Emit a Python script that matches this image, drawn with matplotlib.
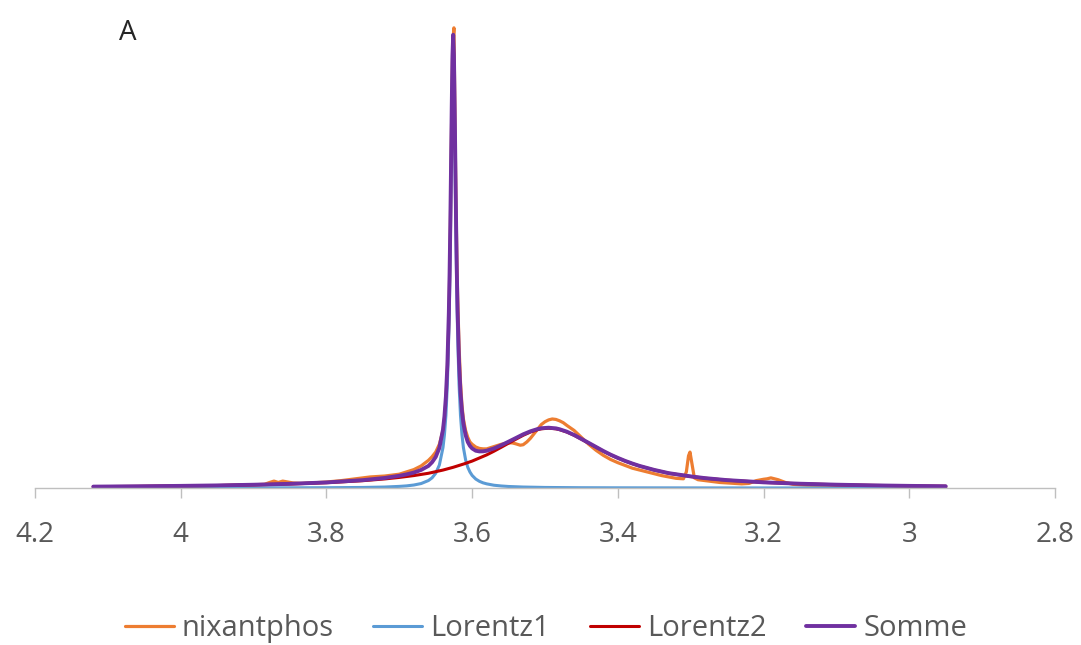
import matplotlib
matplotlib.use('Agg')
import matplotlib.pyplot as plt

plt.rcParams['font.family'] = ['Open Sans', 'DejaVu Sans']

# chemical shift (ppm) and intensity
x_nix = [4.12, 4.06, 4.0, 3.95, 3.9, 3.885, 3.878, 3.872, 3.866, 3.86, 3.853, 3.846, 3.835,
         3.82, 3.8, 3.78, 3.76, 3.74, 3.72, 3.7, 3.69, 3.68, 3.67, 3.66, 3.655, 3.65, 3.645,
         3.64, 3.638, 3.636, 3.634, 3.632, 3.631, 3.63, 3.629, 3.628, 3.627, 3.626, 3.625,
         3.624, 3.623, 3.622, 3.621, 3.62, 3.618, 3.616, 3.614, 3.612, 3.609, 3.606, 3.603,
         3.6, 3.595, 3.59, 3.585, 3.58, 3.57, 3.56, 3.55, 3.545, 3.54, 3.534, 3.53, 3.525,
         3.52, 3.515, 3.51, 3.505, 3.5, 3.495, 3.49, 3.485, 3.48, 3.475, 3.47, 3.46, 3.45,
         3.44, 3.43, 3.42, 3.41, 3.4, 3.39, 3.38, 3.36, 3.35, 3.34, 3.32, 3.31, 3.306, 3.303,
         3.301, 3.298, 3.295, 3.29, 3.28, 3.26, 3.25, 3.23, 3.22, 3.21, 3.2, 3.195, 3.19,
         3.185, 3.18, 3.17, 3.16, 3.14, 3.12, 3.05, 3.0, 2.95]
y_nix = [0.002, 0.003, 0.004, 0.005, 0.007, 0.008, 0.012, 0.015, 0.012, 0.015, 0.013, 0.011, 0.010,
         0.011, 0.013, 0.016, 0.020, 0.024, 0.026, 0.030, 0.035, 0.040, 0.048, 0.060, 0.068, 0.078, 0.095,
         0.125, 0.15, 0.19, 0.26, 0.36, 0.45, 0.55, 0.68, 0.82, 0.93, 0.98, 1.0,
         0.86, 0.72, 0.60, 0.50, 0.42, 0.31, 0.23, 0.18, 0.15, 0.125, 0.11, 0.10,
         0.095, 0.089, 0.086, 0.085, 0.085, 0.09, 0.095, 0.098, 0.098, 0.096, 0.093, 0.094, 0.100,
         0.108, 0.118, 0.128, 0.138, 0.144, 0.148, 0.150, 0.149, 0.146, 0.142, 0.136, 0.125, 0.110,
         0.095, 0.082, 0.071, 0.062, 0.055, 0.049, 0.043, 0.035, 0.031, 0.027, 0.021, 0.020, 0.035, 0.070,
         0.078, 0.050, 0.022, 0.018, 0.016, 0.012, 0.011, 0.009, 0.010, 0.016, 0.019, 0.020, 0.022,
         0.020, 0.018, 0.012, 0.008, 0.006, 0.005, 0.003, 0.002, 0.001]

x_l1 = [4.12, 4.0, 3.9, 3.8, 3.75, 3.72, 3.7, 3.69, 3.68, 3.67, 3.66, 3.655, 3.65, 3.645,
        3.64, 3.638, 3.636, 3.634, 3.632, 3.631, 3.63, 3.629, 3.628, 3.627, 3.626, 3.625,
        3.624, 3.623, 3.622, 3.621, 3.62, 3.618, 3.616, 3.614, 3.612, 3.609, 3.606, 3.603,
        3.6, 3.595, 3.59, 3.585, 3.58, 3.57, 3.56, 3.55, 3.53, 3.5, 3.45, 3.4, 3.3, 3.2,
        3.1, 3.0, 2.95]
y_l1 = [0.0001, 0.0001, 0.0003, 0.0006, 0.0012, 0.0021, 0.0035, 0.0046, 0.0065, 0.0097, 0.0162,
        0.0221, 0.032, 0.050, 0.088, 0.116, 0.158, 0.226, 0.338, 0.42, 0.525, 0.651, 0.785,
        0.896, 0.94, 0.896, 0.785, 0.651, 0.525, 0.42, 0.338, 0.226, 0.158, 0.116, 0.088,
        0.0615, 0.045, 0.0347, 0.0273, 0.0194, 0.0145, 0.0112, 0.0090, 0.006, 0.0044, 0.0033,
        0.0021, 0.0012, 0.0006, 0.0004, 0.0002, 0.0001, 0.0001, 0.0, 0.0]

x_l2 = [4.12, 4.06, 4.0, 3.95, 3.9, 3.85, 3.8, 3.75, 3.72, 3.7, 3.68, 3.66, 3.64, 3.626,
        3.61, 3.6, 3.58, 3.57, 3.56, 3.55, 3.54, 3.53, 3.52, 3.51, 3.505, 3.495, 3.485,
        3.48, 3.47, 3.46, 3.45, 3.44, 3.42, 3.41, 3.4, 3.39, 3.38, 3.37, 3.35, 3.33, 3.3,
        3.28, 3.25, 3.2, 3.15, 3.1, 3.05, 3.0, 2.95]
y_l2 = [0.0029, 0.0036, 0.0045, 0.0054, 0.0068, 0.0087, 0.0115, 0.0159, 0.0197, 0.023, 0.027,
        0.032, 0.039, 0.045, 0.053, 0.0585, 0.072, 0.080, 0.0886, 0.0974, 0.106, 0.1145,
        0.1216, 0.1268, 0.1286, 0.13, 0.1286, 0.1268, 0.1216, 0.1145, 0.106, 0.0974, 0.080,
        0.072, 0.065, 0.0585, 0.0527, 0.0476, 0.039, 0.032, 0.025, 0.0212, 0.017, 0.0122,
        0.0092, 0.0071, 0.0057, 0.0046, 0.0038]

x_sum = [4.12, 4.06, 4.0, 3.95, 3.9, 3.85, 3.8, 3.75, 3.72, 3.7, 3.69, 3.68, 3.67, 3.66,
         3.655, 3.65, 3.645, 3.64, 3.638, 3.636, 3.634, 3.632, 3.631, 3.63, 3.629, 3.628,
         3.627, 3.626, 3.625, 3.624, 3.623, 3.622, 3.621, 3.62, 3.618, 3.616, 3.614, 3.612,
         3.609, 3.606, 3.603, 3.6, 3.595, 3.59, 3.585, 3.58, 3.57, 3.56, 3.55, 3.54, 3.53,
         3.52, 3.51, 3.505, 3.495, 3.485, 3.48, 3.47, 3.46, 3.45, 3.44, 3.42, 3.41, 3.4,
         3.39, 3.38, 3.37, 3.35, 3.33, 3.3, 3.28, 3.25, 3.2, 3.15, 3.1, 3.05, 3.0, 2.95]
y_sum = [0.0030, 0.0037, 0.0046, 0.0056, 0.0071, 0.0091, 0.0121, 0.0171, 0.0218, 0.0265,
         0.0296, 0.0335, 0.0393, 0.048, 0.056, 0.0675, 0.087, 0.127, 0.156, 0.199, 0.267,
         0.380, 0.463, 0.568, 0.695, 0.829, 0.940, 0.985, 0.941, 0.831, 0.697, 0.572, 0.467,
         0.386, 0.275, 0.208, 0.167, 0.140, 0.115, 0.100, 0.0915, 0.086, 0.081, 0.0795,
         0.0797, 0.081, 0.086, 0.093, 0.1007, 0.1086, 0.1166, 0.1232, 0.1282, 0.1299, 0.131,
         0.1296, 0.1277, 0.1224, 0.1152, 0.1066, 0.098, 0.0805, 0.0725, 0.0654, 0.0589,
         0.0531, 0.0479, 0.0393, 0.0322, 0.0252, 0.0214, 0.0171, 0.0123, 0.0093, 0.0072,
         0.0057, 0.0046, 0.0038]

labels = ['nixantphos', 'Lorentz1', 'Lorentz2', 'Somme']
colors = ['#ED7D31', '#5B9BD5', '#C00000', '#7030A0']
series = [(x_nix, y_nix), (x_l1, y_l1), (x_l2, y_l2), (x_sum, y_sum)]
widths = [2.3, 2.2, 2.2, 2.8]

fig = plt.figure(figsize=(10.81, 6.45), dpi=100)
ax = fig.add_axes([35 / 1081, 157 / 645, 1020 / 1081, 468 / 645])

for (xs, ys), lab, col, lw in zip(series, labels, colors, widths):
    ax.plot(xs, ys, color=col, lw=lw, label=lab, solid_capstyle='round',
            solid_joinstyle='round')

ax.set_xlim(4.2, 2.8)
ax.set_ylim(0, 1.017)
ax.set_xticks([4.2, 4.0, 3.8, 3.6, 3.4, 3.2, 3.0, 2.8])
ax.set_xticklabels(['4.2', '4', '3.8', '3.6', '3.4', '3.2', '3', '2.8'])
ax.set_yticks([])
for side in ['top', 'right', 'left']:
    ax.spines[side].set_visible(False)
ax.spines['bottom'].set_color('#BFBFBF')
ax.spines['bottom'].set_linewidth(1.0)
ax.tick_params(axis='x', direction='out', length=7, width=1.0, color='#BFBFBF',
               labelsize=20, labelcolor='#595959', pad=17)

fig.text(0.110, 0.938, 'A', fontsize=20, color='#262626', ha='left', va='baseline')

fig.legend(loc='center', bbox_to_anchor=(0.505, 0.026), ncol=4, frameon=False,
           fontsize=21, labelcolor='#595959', handlelength=1.68, handletextpad=0.27,
           columnspacing=1.37)

fig.savefig('out.png', dpi=100)
